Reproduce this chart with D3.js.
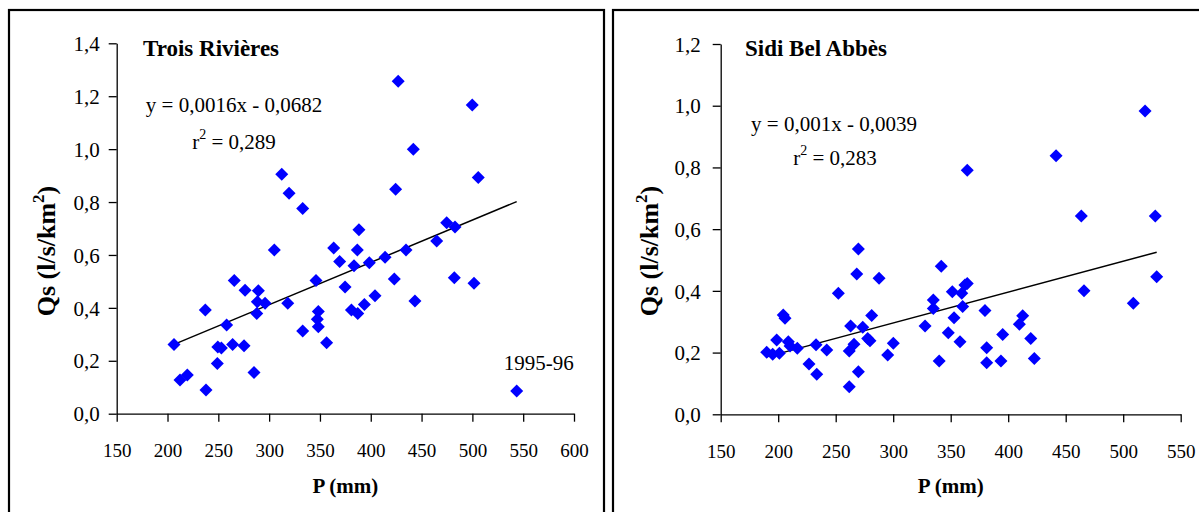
<!DOCTYPE html>
<html>
<head>
<meta charset="utf-8">
<script src="https://cdn.jsdelivr.net/npm/d3@7"></script>
<style>
  html, body { margin: 0; padding: 0; background: #fff; }
  svg { display: block; font-family: "Liberation Serif", "Times New Roman", serif; }
</style>
</head>
<body>
<svg id="chart" width="1199" height="512"></svg>
<script>
// Trois Rivières: annual precipitation P (mm) and specific discharge Qs (l/s/km²)
const trP = [206.4, 212.3, 219.5, 237.9, 237.2, 249.0, 249.5, 253.0, 258.2, 265.7,
  264.1, 275.3, 276.3, 285.1, 289.4, 288.4, 296.0, 287.8, 305.1, 312.4,
  319.6, 318.3, 333.0, 333.0, 346.1, 348.4, 347.4, 348.4, 356.6, 363.5,
  369.4, 374.7, 381.0, 387.2, 386.8, 383.5, 388.4, 398.6, 393.7, 404.2,
  414.1, 423.2, 424.5, 427.0, 434.7, 441.9, 443.5, 464.9, 474.7, 482.9,
  482.2, 499.9, 501.6, 505.8, 543.6];
const trQs = [0.262, 0.127, 0.146, 0.090, 0.392, 0.190, 0.252, 0.248, 0.335, 0.503,
  0.262, 0.257, 0.467, 0.156, 0.465, 0.423, 0.417, 0.379, 0.619, 0.905,
  0.833, 0.417, 0.776, 0.313, 0.503, 0.386, 0.357, 0.329, 0.268, 0.626,
  0.575, 0.479, 0.392, 0.379, 0.619, 0.559, 0.695, 0.571, 0.413, 0.446,
  0.591, 0.509, 0.848, 1.257, 0.619, 1.000, 0.426, 0.653, 0.722, 0.706,
  0.514, 1.167, 0.493, 0.893, 0.086];
const trSlope = 0.0016, trIntercept = -0.0682, trR2 = "0,289";
const trOutlierLabel = "1995-96";
const trOutlierIndex = trP.length - 1;

// Sidi Bel Abbès
const sbP = [190.0, 195.2, 201.0, 198.7, 204.4, 205.9, 208.8, 210.3, 216.6, 226.8,
  232.9, 233.5, 242.2, 252.3, 261.8, 261.8, 265.9, 263.0, 269.7, 268.3,
  269.7, 273.5, 277.8, 279.8, 281.3, 287.7, 295.2, 300.1, 327.7, 334.9,
  334.9, 340.0, 341.8, 347.9, 351.4, 352.9, 358.1, 359.6, 360.4, 362.4,
  364.4, 364.4, 379.8, 381.3, 381.3, 393.7, 395.2, 409.7, 412.6, 419.6,
  422.7, 441.6, 463.6, 465.9, 508.8, 519.0, 527.9, 529.1];
const sbQs = [0.201, 0.195, 0.198, 0.241, 0.322, 0.311, 0.235, 0.221, 0.214, 0.163,
  0.225, 0.130, 0.208, 0.392, 0.089, 0.205, 0.227, 0.286, 0.536, 0.455,
  0.138, 0.282, 0.246, 0.238, 0.320, 0.441, 0.192, 0.230, 0.286, 0.370,
  0.343, 0.173, 0.480, 0.264, 0.397, 0.313, 0.235, 0.392, 0.349, 0.419,
  0.424, 0.791, 0.336, 0.216, 0.167, 0.173, 0.259, 0.292, 0.319, 0.246,
  0.181, 0.838, 0.643, 0.400, 0.360, 0.983, 0.643, 0.446];
const sbSlope = 0.001, sbIntercept = -0.0039, sbR2 = "0,283";

// Axis ticks
const trXTicks = [150, 200, 250, 300, 350, 400, 450, 500, 550, 600];
const trYTicks = [0, 0.2, 0.4, 0.6, 0.8, 1.0, 1.2, 1.4];
const sbXTicks = [150, 200, 250, 300, 350, 400, 450, 500, 550];
const sbYTicks = [0, 0.2, 0.4, 0.6, 0.8, 1.0, 1.2];

const frLocale = d3.formatLocale({decimal: ",", thousands: " ", grouping: [3], currency: ["", " €"]});
const fmtY = frLocale.format(".1f");
const fmtCoef = v => frLocale.format("")(Math.abs(v));

const svg = d3.select("#chart");
const BLUE = "#0000ff";
const diamond = "M0,-6.5L6.5,0L0,6.5L-6.5,0Z";

function panel(cfg) {
  const g = svg.append("g");
  // frame
  g.append("rect")
    .attr("x", cfg.frame[0]).attr("y", cfg.frame[1])
    .attr("width", cfg.frame[2]).attr("height", cfg.frame[3])
    .attr("fill", "none").attr("stroke", "#000").attr("stroke-width", 2.2);

  const x = d3.scaleLinear().domain(cfg.xDomain).range(cfg.xRange);
  const y = d3.scaleLinear().domain(cfg.yDomain).range(cfg.yRange);

  const yAxis = g.append("g")
    .attr("transform", `translate(${cfg.xRange[0]},0)`)
    .call(d3.axisLeft(y).tickValues(cfg.yTicks).tickFormat(fmtY)
      .tickSize(8).tickSizeOuter(0).tickPadding(cfg.yPad));
  const xAxis = g.append("g")
    .attr("transform", `translate(0,${cfg.yRange[0]})`)
    .call(d3.axisBottom(x).tickValues(cfg.xTicks).tickFormat(d3.format("d"))
      .tickSize(8).tickSizeOuter(0).tickPadding(22));
  [xAxis, yAxis].forEach(a => {
    a.attr("font-family", null).attr("font-size", null);
    a.selectAll("path.domain").attr("stroke", "#000").attr("stroke-width", 1.3);
    a.selectAll(".tick line").attr("stroke", "#000").attr("stroke-width", 1.3);
    a.selectAll(".tick text").attr("fill", "#000");
  });
  xAxis.selectAll(".tick text").style("font-size", "19px");
  yAxis.selectAll(".tick text").style("font-size", "21px").attr("dy", "0.34em");

  // trend line over the observed range of P
  const [pMin, pMax] = d3.extent(cfg.P);
  g.append("line")
    .attr("x1", x(pMin)).attr("y1", y(cfg.slope * pMin + cfg.intercept))
    .attr("x2", x(pMax)).attr("y2", y(cfg.slope * pMax + cfg.intercept))
    .attr("stroke", "#000").attr("stroke-width", 1.5);

  // points
  g.append("g").selectAll("path")
    .data(cfg.P.map((p, i) => [p, cfg.Q[i]]))
    .join("path")
    .attr("d", diamond)
    .attr("transform", d => `translate(${x(d[0])},${y(d[1])})`)
    .attr("fill", BLUE);

  // station name
  g.append("text").attr("x", cfg.titlePos[0]).attr("y", cfg.titlePos[1])
    .attr("font-weight", "bold").attr("font-size", 23).text(cfg.title);

  // regression equation and r²
  const sign = cfg.intercept < 0 ? "-" : "+";
  g.append("text").attr("x", cfg.eqPos[0]).attr("y", cfg.eqPos[1])
    .attr("text-anchor", "middle").attr("font-size", 21)
    .text(`y = ${fmtCoef(cfg.slope)}x ${sign} ${fmtCoef(cfg.intercept)}`);
  const r2 = g.append("text").attr("x", cfg.r2Pos[0]).attr("y", cfg.r2Pos[1])
    .attr("text-anchor", "middle").attr("font-size", 21);
  r2.append("tspan").text("r");
  r2.append("tspan").attr("font-size", 14).attr("dy", -10).text("2");
  r2.append("tspan").attr("dy", 10).text(` = ${cfg.r2}`);

  // axis titles
  g.append("text")
    .attr("x", (cfg.xRange[0] + cfg.xRange[1]) / 2).attr("y", cfg.xTitleY)
    .attr("text-anchor", "middle").attr("font-weight", "bold").attr("font-size", 21)
    .text("P (mm)");
  const yt = g.append("text")
    .attr("transform", `translate(${cfg.yTitlePos[0]},${cfg.yTitlePos[1]}) rotate(-90)`)
    .attr("text-anchor", "middle").attr("font-weight", "bold").attr("font-size", 26);
  yt.append("tspan").text("Qs (l/s/km");
  yt.append("tspan").attr("font-size", 17).attr("dy", -11).text("2");
  yt.append("tspan").attr("dy", 11).text(")");

  return {g, x, y};
}

const left = panel({
  frame: [9, 10, 595, 520],
  xDomain: [150, 600], xRange: [116.7, 574],
  yDomain: [0, 1.4], yRange: [413.7, 43.3],
  xTicks: trXTicks, yTicks: trYTicks, yPad: 9,
  P: trP, Q: trQs, slope: trSlope, intercept: trIntercept, r2: trR2,
  title: "Trois Rivières", titlePos: [143, 56],
  eqPos: [234, 112], r2Pos: [234, 149],
  xTitleY: 493, yTitlePos: [55, 251]
});

// label of the 1995-96 outlier
left.g.append("text")
  .attr("x", left.x(trP[trOutlierIndex]) + 22)
  .attr("y", left.y(trQs[trOutlierIndex]) - 21)
  .attr("text-anchor", "middle").attr("font-size", 21)
  .text(trOutlierLabel);

panel({
  frame: [613, 10, 600, 520],
  xDomain: [150, 550], xRange: [720.7, 1180.7],
  yDomain: [0, 1.2], yRange: [414.3, 44],
  xTicks: sbXTicks, yTicks: sbYTicks, yPad: 12,
  P: sbP, Q: sbQs, slope: sbSlope, intercept: sbIntercept, r2: sbR2,
  title: "Sidi Bel Abbès", titlePos: [745, 56],
  eqPos: [834, 131], r2Pos: [835, 165],
  xTitleY: 493, yTitlePos: [658, 251]
});
</script>
</body>
</html>
